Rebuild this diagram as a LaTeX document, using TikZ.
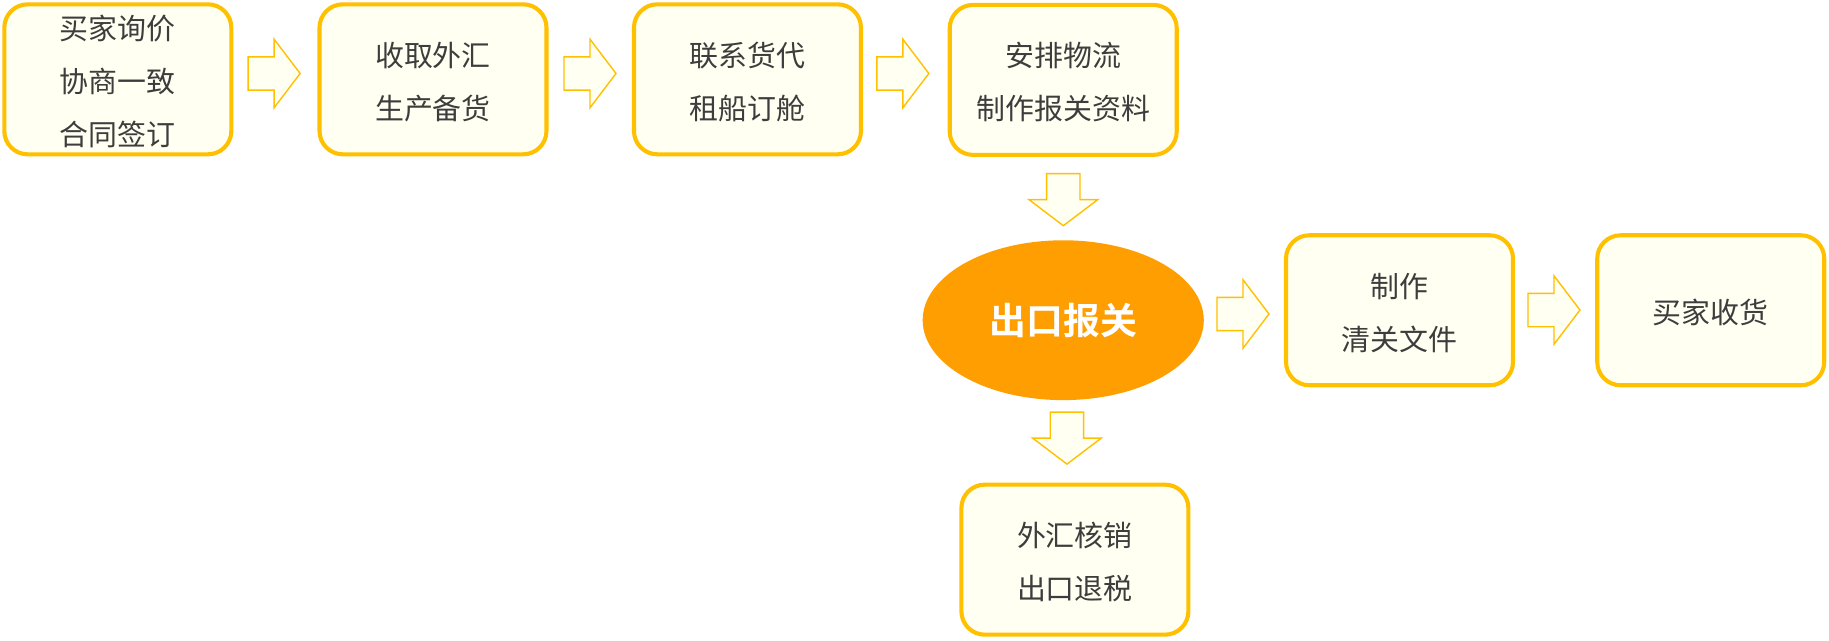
\documentclass[tikz,border=0pt]{standalone}
\usepackage{fontspec}
\newfontfamily\cjk{Noto Sans CJK SC}
\newfontfamily\cjkbold{Noto Sans CJK SC Bold}
\usetikzlibrary{shapes.geometric}
\definecolor{gold}{HTML}{FFC000}
\definecolor{ivory}{HTML}{FFFFF2}
\definecolor{orng}{HTML}{FF9E00}
\definecolor{txt}{HTML}{3D3D3D}
\tikzset{
  box/.style={draw=gold, line width=3.5pt, rounded corners=20pt, fill=ivory,
    minimum width=194.6pt, minimum height=128.6pt, inner sep=0pt},
  lbl/.style={inner sep=0pt, align=center, text=txt,
    font=\cjk\fontsize{24.8}{45.5}\selectfont},
  oval/.style={ellipse, fill=orng, minimum width=241pt, minimum height=137pt,
    inner sep=0pt, text=white, font=\cjkbold\fontsize{31.6}{36}\selectfont},
  arrowstyle/.style={draw=gold, line width=1.2pt, fill=ivory, line join=miter},
  barrow/.pic={\path[arrowstyle] (-22.3,-14.3) -- (0,-14.3) -- (0,-29.4) -- (22.3,0)
     -- (0,29.4) -- (0,14.3) -- (-22.3,14.3) -- cycle;}
}
\begin{document}
\begin{tikzpicture}[x=1pt, y=-1pt]
\useasboundingbox (0,0) rectangle (1568,548.7);
\node[box] (b1) at (101,68) {};
\node[box] (b2) at (371.2,68) {};
\node[box] (b3) at (640.8,68) {};
\node[box] (b4) at (911.5,68.5) {};
\node[oval] (e) at (911.5,274.5) {出口报关};
\node[box] (b5) at (1199.8,266) {};
\node[box] (b6) at (1466.6,266) {};
\node[box] (b7) at (921.5,479.8) {};
\node[lbl] (t1) at ([yshift=-2pt]b1.center) {买家询价\\协商一致\\合同签订};
\node[lbl] (t2) at ([yshift=-2pt]b2.center) {收取外汇\\生产备货};
\node[lbl] (t3) at ([yshift=-2pt]b3.center) {联系货代\\租船订舱};
\node[lbl] (t4) at ([yshift=-1.5pt]b4.center) {安排物流\\制作报关资料};
\node[lbl] (t5) at ([yshift=-2pt]b5.center) {制作\\清关文件};
\node[lbl] (t6) at ([yshift=-2pt]b6.center) {买家收货};
\node[lbl] (t7) at ([yshift=-2pt]b7.center) {外汇核销\\出口退税};
\pic (a1) at (235,63) {barrow};
\pic (a2) at (505.8,63) {barrow};
\pic (a3) at (774,63) {barrow};
\pic[rotate=-90] (d1) at (911.6,171.2) {barrow};
\pic (a4) at (1065.6,269.2) {barrow};
\pic (a5) at (1332.2,265.8) {barrow};
\pic[rotate=-90] (d2) at (914.7,375.6) {barrow};
\end{tikzpicture}
\end{document}
